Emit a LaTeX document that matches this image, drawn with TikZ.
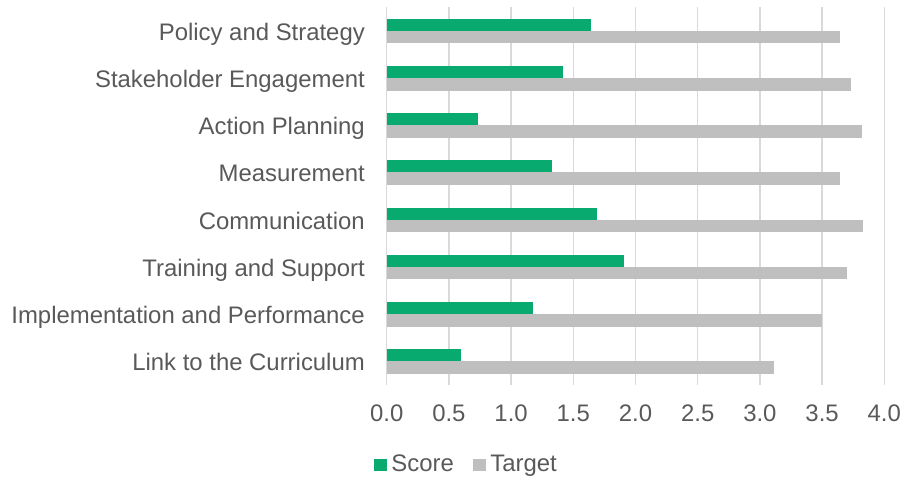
\documentclass[tikz,border=0pt]{standalone}
\usepackage{fontspec}
\setmainfont{Liberation Sans}
\definecolor{scoreg}{HTML}{08AA6F}
\definecolor{targg}{HTML}{BFBFBF}
\definecolor{gridg}{HTML}{D9D9D9}
\definecolor{txtg}{HTML}{595959}
\tikzset{
  lbl/.style={text=txtg,font=\fontsize{23.9pt}{27pt}\selectfont,inner sep=0pt},
  gridline/.style={draw=gridg,line width=1.4pt},
  scorebar/.style={fill=scoreg},
  targetbar/.style={fill=targg}
}
\begin{document}
\begin{tikzpicture}[x=1pt,y=1pt]
\useasboundingbox (0,0) rectangle (902,478);
% gridlines
\foreach \v in {0,0.5,...,4.0}{
  \draw[gridline] ({386.7+124.4*\v},{478-7.3}) -- ({386.7+124.4*\v},{478-385});
}
% bars
\foreach \i/\name/\s/\t in {0/Policy and Strategy/1.64/3.64,
  1/Stakeholder Engagement/1.42/3.73,
  2/Action Planning/0.73/3.82,
  3/Measurement/1.33/3.64,
  4/Communication/1.69/3.83,
  5/Training and Support/1.91/3.70,
  6/Implementation and Performance/1.18/3.50,
  7/Link to the Curriculum/0.60/3.11}{
  \pgfmathsetmacro{\c}{478-(7.3+47.2*(\i+0.5))}
  \fill[scorebar] (386.7,\c) rectangle ({386.7+124.4*\s},{\c+12.1});
  \fill[targetbar] (386.7,{\c-12.5}) rectangle ({386.7+124.4*\t},\c);
  \node[lbl,anchor=base east] (cat\i) at (365,{\c-9.4}) {\name};
}
% tick labels
\foreach \v/\lab [count=\k] in {0/0.0,0.5/0.5,1/1.0,1.5/1.5,2/2.0,2.5/2.5,3/3.0,3.5/3.5,4/4.0}{
  \node[lbl,anchor=base] (tick\k) at ({386.7+124.4*\v},{478-421.7}) {\lab};
}
% legend
\fill[scoreg] (374,{478-470.7}) rectangle (386.7,{478-459.3});
\node[lbl,anchor=base west] (legscore) at (391.2,{478-472}) {Score};
\fill[targg] (473.3,{478-470.7}) rectangle (485.7,{478-459.3});
\node[lbl,anchor=base west] (legtarget) at (490.2,{478-472}) {Target};
\end{tikzpicture}
\end{document}
